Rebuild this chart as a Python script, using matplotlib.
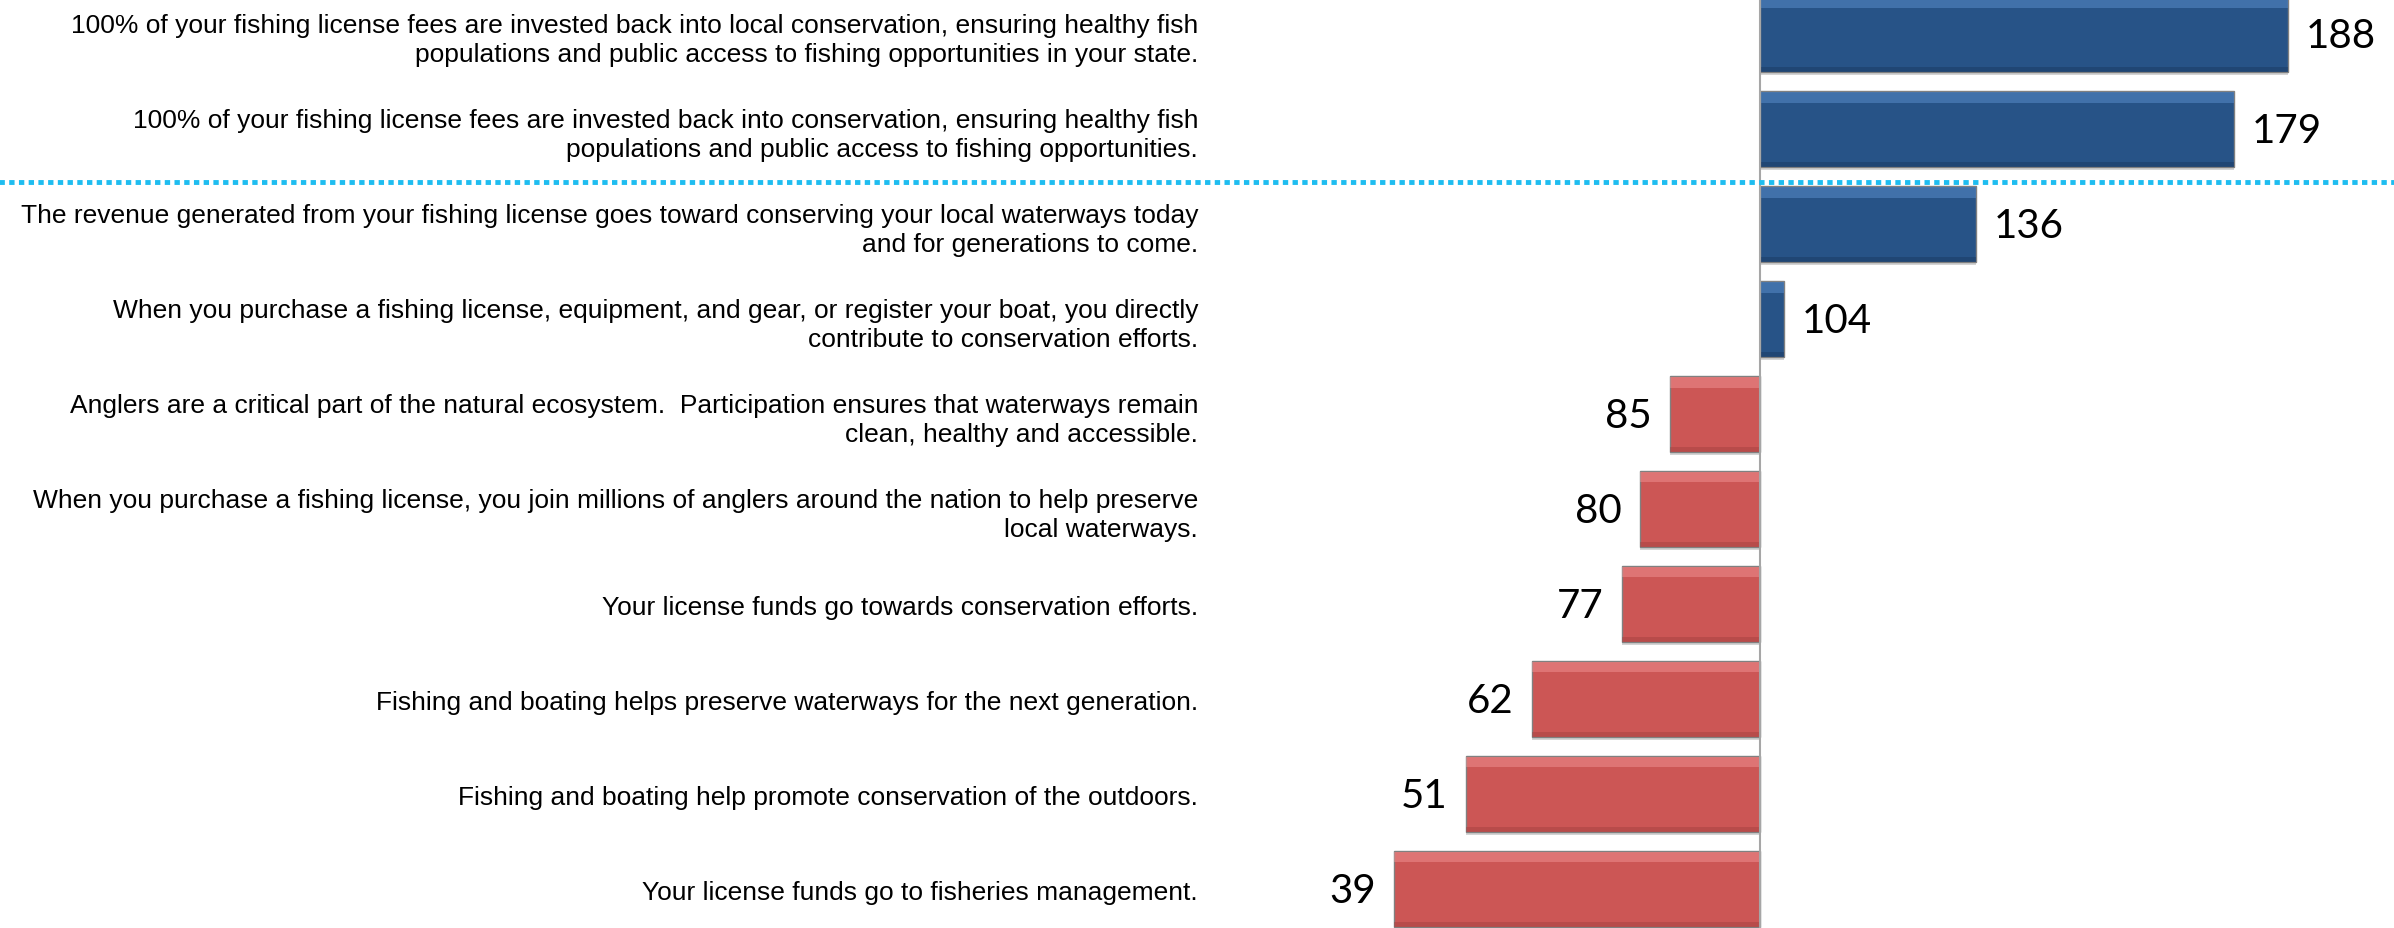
import numpy as np
import matplotlib
matplotlib.use("Agg")
import matplotlib.pyplot as plt

# message test results, index (100 = average)
labels = [
    "100% of your fishing license fees are invested back into local conservation, ensuring healthy fish\npopulations and public access to fishing opportunities in your state.",
    "100% of your fishing license fees are invested back into conservation, ensuring healthy fish\npopulations and public access to fishing opportunities.",
    "The revenue generated from your fishing license goes toward conserving your local waterways today\nand for generations to come.",
    "When you purchase a fishing license, equipment, and gear, or register your boat, you directly\ncontribute to conservation efforts.",
    "Anglers are a critical part of the natural ecosystem.  Participation ensures that waterways remain\nclean, healthy and accessible.",
    "When you purchase a fishing license, you join millions of anglers around the nation to help preserve\nlocal waterways.",
    "Your license funds go towards conservation efforts.",
    "Fishing and boating helps preserve waterways for the next generation.",
    "Fishing and boating help promote conservation of the outdoors.",
    "Your license funds go to fisheries management.",
]
scores = [188, 179, 136, 104, 85, 80, 77, 62, 51, 39]
base = 100
cut_after = 2  # dotted line under the first two messages

vals = np.array(scores)
y = np.arange(len(vals))
up = vals >= base
face = np.where(up, "#275387", "#cc5655")
light = np.where(up, "#6196d6", "#f59a9a")
dark = np.where(up, "#1b3a62", "#a64241")

fig = plt.figure(figsize=(23.94, 9.29), dpi=100)
ax = fig.add_axes([1212 / 2394, 0, 1 - 1212 / 2394, 1])

h = 0.8
# shadow
ax.barh(y + 0.035, vals - base, left=base, height=h, color="#d4d4d4", zorder=1)
ax.barh(y, vals - base, left=base, height=h, color=face, edgecolor="#808080", linewidth=1, zorder=2)
# bevel: light top, dark bottom
ax.barh(y - h / 2 + 0.065, vals - base, left=base, height=0.11, color=light, alpha=0.45, linewidth=0, zorder=3)
ax.barh(y + h / 2 - 0.03, vals - base, left=base, height=0.05, color=dark, alpha=0.5, linewidth=0, zorder=3)

for yi, v in zip(y, vals):
    if v >= base:
        ax.annotate(str(v), (v, yi), xytext=(13, -1), textcoords="offset points",
                    ha="left", va="center", fontsize=29, family="Lato")
    else:
        ax.annotate(str(v), (v, yi), xytext=(-13, -1), textcoords="offset points",
                    ha="right", va="center", fontsize=29, family="Lato")

ax.axvline(base, color="#a6a6a6", linewidth=1.5, zorder=4)
ax.axhline(cut_after - 0.44, xmin=-1.1, xmax=1, color="#1ebdf0", linewidth=3.5,
           linestyle=(0, (1.1, 0.9)), clip_on=False, zorder=5)

k = 6.0  # px per index point
ax.set_xlim(base - (1760 - 1212) / k, base + (2394 - 1760) / k)
ax.set_ylim(9.41, -0.37)
ax.set_yticks(y)
ax.set_yticklabels(labels, fontsize=19, family="Liberation Sans", linespacing=1.3)
ax.tick_params(axis="y", length=0, pad=10)
ax.set_xticks([])
for s in ax.spines.values():
    s.set_visible(False)

fig.savefig("out.png", dpi=100)
